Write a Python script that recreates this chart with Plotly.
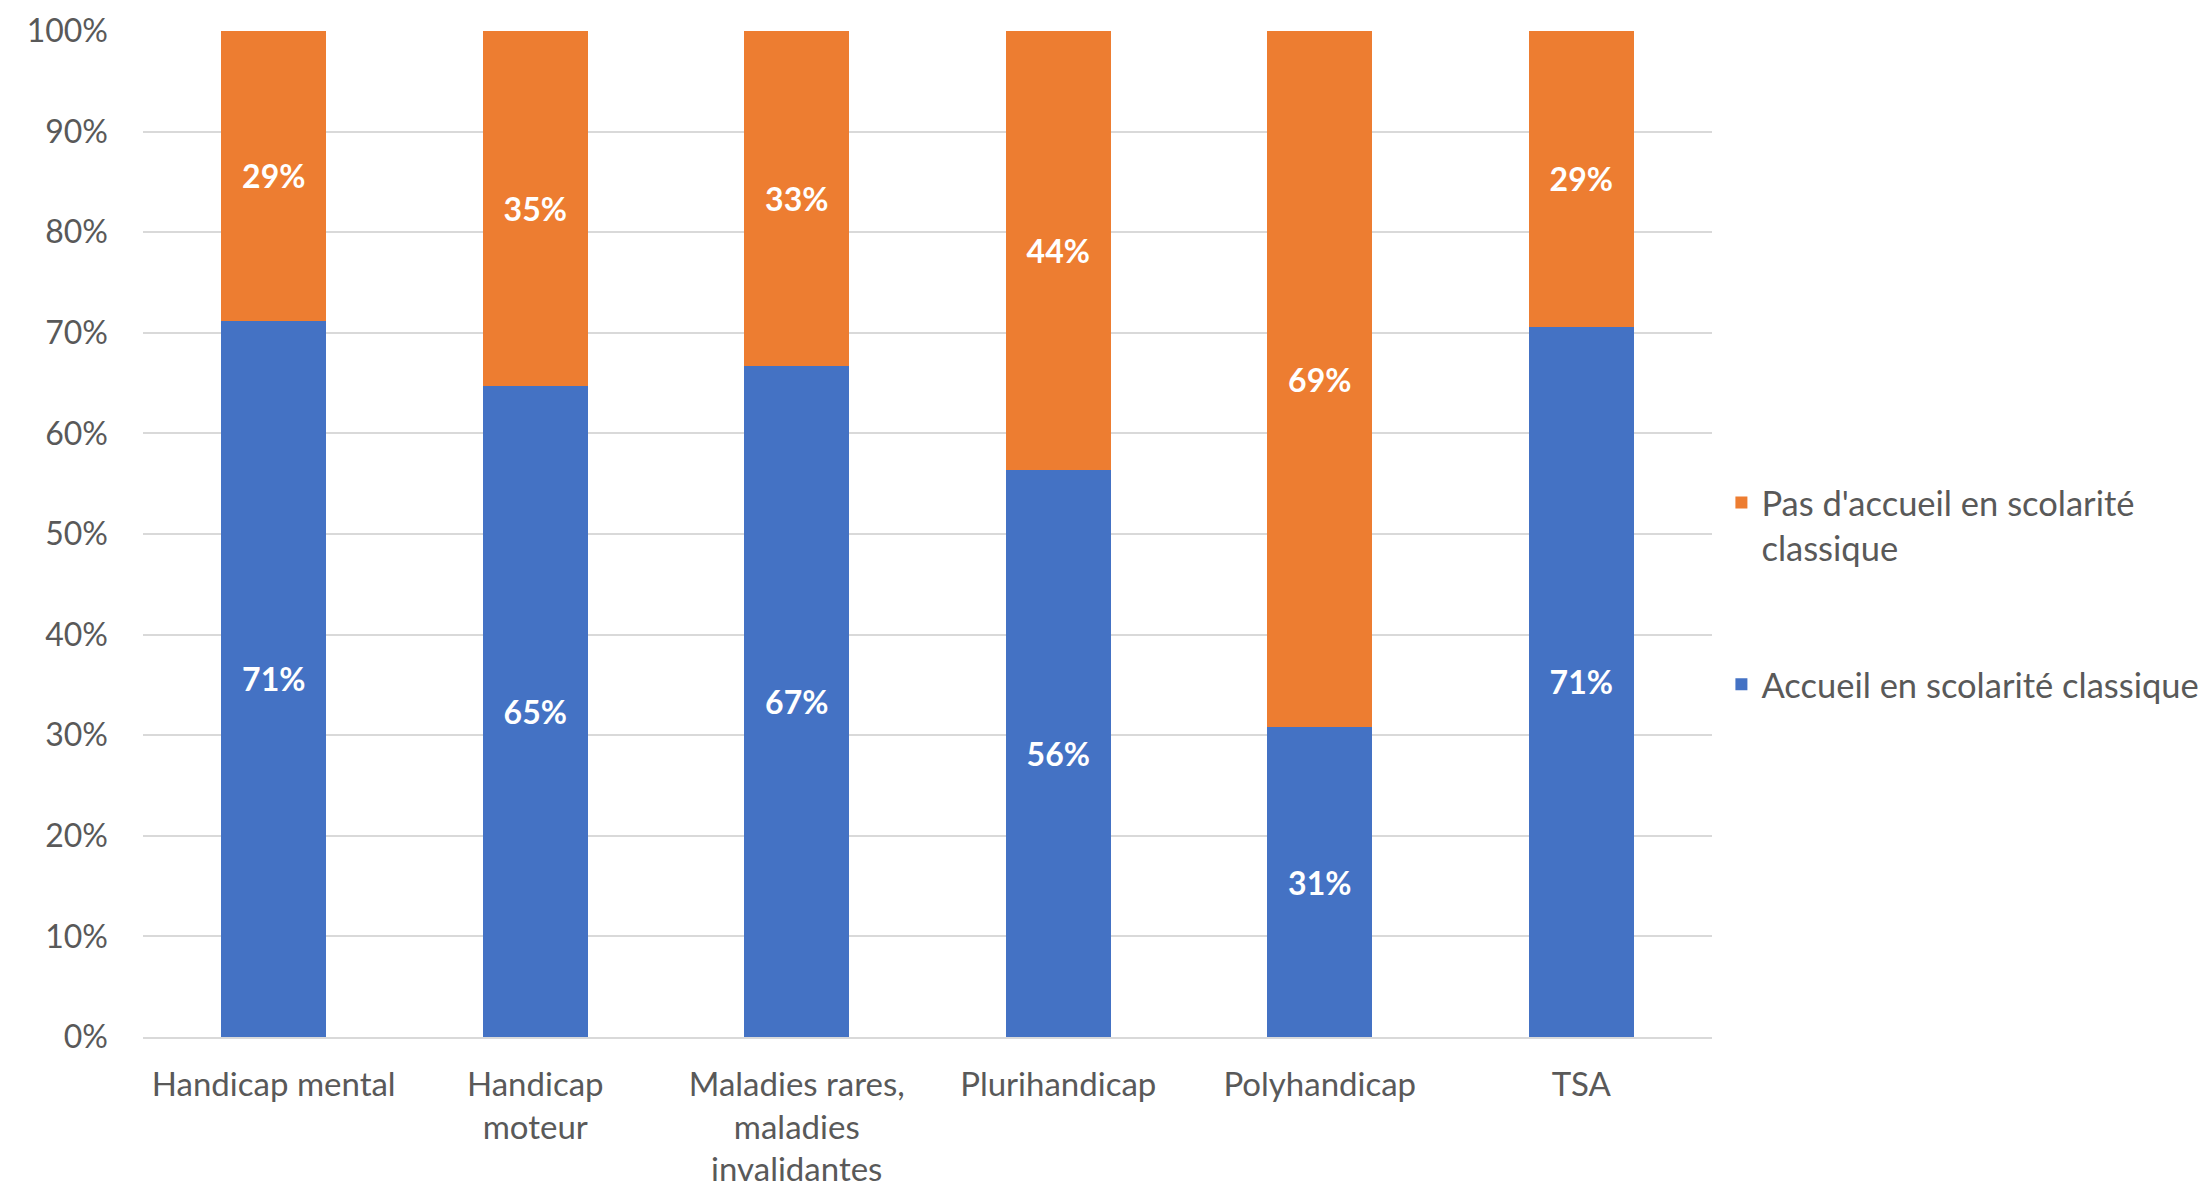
import plotly.graph_objects as go

categories = ["Handicap mental", "Handicap moteur", "Maladies rares, maladies invalidantes",
              "Plurihandicap", "Polyhandicap", "TSA"]
tick_labels = ["Handicap mental", "Handicap<br>moteur", "Maladies rares,<br>maladies<br>invalidantes",
               "Plurihandicap", "Polyhandicap", "TSA"]
accueil = [71.2, 64.7, 66.7, 56.4, 30.8, 70.6]
pas_accueil = [28.8, 35.3, 33.3, 43.6, 69.2, 29.4]

y_ticks = [0, 10, 20, 30, 40, 50, 60, 70, 80, 90, 100]
y_tick_labels = [f"{v}%" for v in y_ticks]

series_names = ["Accueil en scolarité classique", "Pas d'accueil en scolarité<br>classique"]

FONT = "Lato"
GREY = "#595959"

fig = go.Figure()
fig.add_trace(go.Bar(
    x=categories, y=accueil, name=series_names[0], legendgroup="a", legendrank=2,
    marker=dict(color="#4472C4", line=dict(width=0)),
    texttemplate="%{y:.0f}%", textposition="inside", insidetextanchor="middle",
    textfont=dict(family=FONT, size=32, color="white", weight="bold"),
    textangle=0,
))
fig.add_trace(go.Bar(
    x=categories, y=pas_accueil, name=series_names[1], legendgroup="b", legendrank=1,
    marker=dict(color="#ED7D31", line=dict(width=0)),
    texttemplate="%{y:.0f}%", textposition="inside", insidetextanchor="middle",
    textfont=dict(family=FONT, size=32, color="white", weight="bold"),
    textangle=0,
))

fig.update_layout(
    width=2209, height=1189,
    barmode="stack", bargap=0.6,
    paper_bgcolor="white", plot_bgcolor="white",
    margin=dict(l=135, r=505, t=23, b=160, autoexpand=False),
    font=dict(family=FONT, color=GREY, size=32),
    uniformtext=dict(minsize=20, mode="show"),
    legend=dict(
        x=1.006, xanchor="left", y=0.56, yanchor="top",
        traceorder="grouped", tracegroupgap=89, valign="top",
        font=dict(family=FONT, size=34.5, color=GREY),
        itemwidth=30,
    ),
    xaxis=dict(
        tickmode="array", tickvals=categories, ticktext=tick_labels,
        showgrid=False, showline=True, linecolor="#d9d9d9", linewidth=2,
        ticks="", tickfont=dict(family=FONT, size=33, color=GREY),
        ticklabelstandoff=17,
    ),
    yaxis=dict(
        range=[0, 100], tickmode="array", tickvals=y_ticks, ticktext=y_tick_labels,
        showgrid=True, gridcolor="#d9d9d9", gridwidth=2,
        zeroline=False, showline=False, ticks="",
        tickfont=dict(family=FONT, size=32, color=GREY), ticklabelstandoff=34,
    ),
)

fig.write_html("out.html")
